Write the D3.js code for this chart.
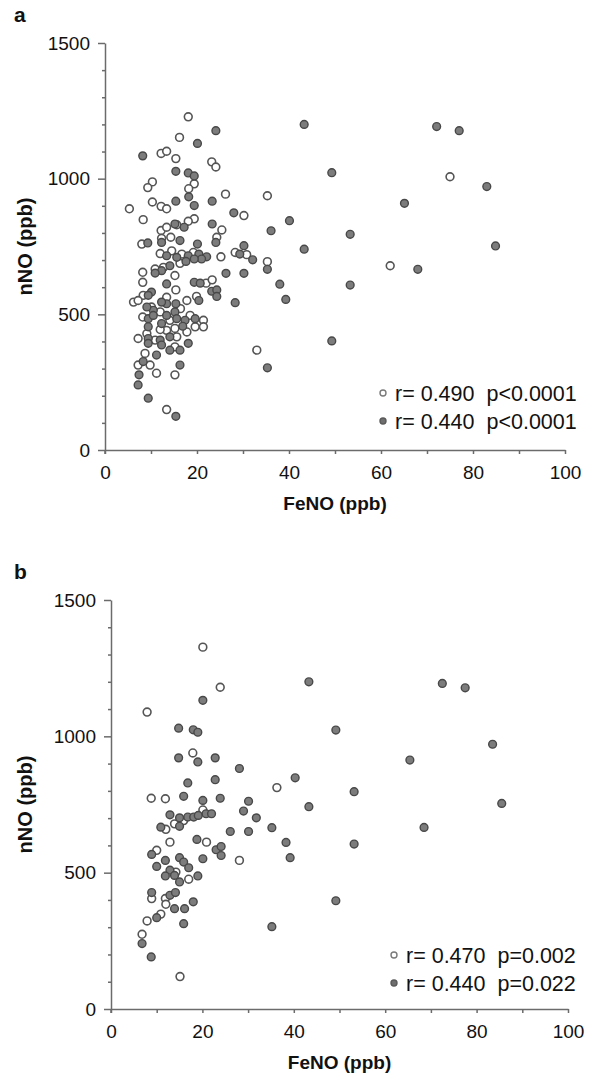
<!DOCTYPE html>
<html>
<head>
<meta charset="utf-8">
<script src="https://cdn.jsdelivr.net/npm/d3@7"></script>
<style>
  html, body { margin: 0; padding: 0; background: #fff; }
  svg { display: block; font-family: "Liberation Sans", Arial, Helvetica, sans-serif; }
</style>
</head>
<body>
<svg id="chart" width="596" height="1088"></svg>
<script>
// ---------------- DATA ----------------
const xTicks = [0, 20, 40, 60, 80, 100];
const yTicks = [0, 500, 1000, 1500];
const xTitle = "FeNO (ppb)";
const yTitle = "nNO (ppb)";
const panelLabels = ["a", "b"];

// Panel a — open circles [FeNO, nNO]
const aOpen = [
  [18.1,1228],[16.2,1152],[12.2,1093],[13.4,1101],[15.4,1074],[23.2,1062],[24.1,1043],[10.3,988],
  [9.3,967],[19.4,981],[18.2,963],[26.2,943],[10.3,914],[12.2,898],[13.4,889],[5.3,889],[8.3,849],
  [30.2,864],[19.4,852],[18.1,843],[25.4,811],[24.3,784],[12.2,809],[13.4,821],[15.6,830],[8.0,759],
  [14.3,784],[12.3,780],
  [12.0,724],[14.5,734],[16.7,722],[19.2,728],[25.2,712],[28.3,728],[30.8,720],[16.3,688],[12.7,673],
  [10.9,667],[8.2,655],[8.2,618],[15.2,643],[22.0,615],[23.3,627],[19.9,566],[17.8,551],[15.4,590],
  [13.4,563],[8.3,570],[6.2,545],[7.2,551],[10.1,527],[8.2,490],[12.0,509],[16.4,521],[14.1,478],
  [18.5,496],[21.4,478],[21.4,454],[19.6,454],[17.8,435],[15.2,448],[13.4,441],[12.0,444],[9.1,429],
  [7.2,411],[10.9,405],[15.6,417],[15.2,380],[8.7,356],[7.2,313],[9.8,313],[11.2,283],[15.2,277],
  [13.4,149],[33.0,368],
  [75.0,1007],[35.3,937],[35.3,694],[62.0,679]
];
// Panel a — filled circles
const aFilled = [
  [24.1,1177],[20.1,1130],[8.2,1084],[15.4,1027],[18.1,1021],[19.4,1010],[18.2,933],[19.4,901],
  [15.4,917],[23.3,917],[28.0,874],[23.3,833],[17.2,821],[15.2,833],[9.3,763],[12.3,765],[16.3,772],
  [20.1,759],[24.1,765],[30.2,753],
  [13.4,716],[15.6,710],[18.1,716],[20.4,722],[22.1,712],[21.0,704],[19.4,704],[29.3,722],[32.1,701],
  [17.6,695],[14.1,679],[12.3,661],[10.9,652],[13.4,612],[26.3,651],[30.2,651],[19.4,618],[20.7,615],
  [23.2,585],[24.3,590],[24.3,566],[28.3,543],[20.4,551],[15.4,539],[13.4,539],[12.3,545],[10.1,582],
  [9.4,570],[10.5,515],[9.1,527],[9.4,484],[10.5,496],[13.4,496],[15.2,509],[15.6,484],[17.4,478],
  [12.3,466],[19.6,484],[16.9,456],[9.4,454],[9.4,411],[9.4,393],[12.0,405],[12.3,387],[14.1,417],
  [18.1,393],[14.1,368],[16.3,368],[11.2,350],[8.3,326],[16.3,313],[7.4,277],[7.2,240],[9.4,191],
  [15.4,124],
  [43.3,1200],[72.1,1192],[77.0,1177],[49.3,1022],[83.0,971],[65.1,909],[40.1,845],[36.1,808],
  [53.3,795],[43.3,740],[84.9,752],[35.3,666],[68.0,666],[38.0,611],[53.3,608],[39.3,555],[49.3,402],
  [35.3,303]
];
// Panel b — open circles
const bOpen = [
  [20.1,1327],[23.9,1180],[7.9,1089],[17.9,939],[8.8,773],[11.9,771],[15.9,691],[20.1,730],
  [12.0,659],[13.9,679],[12.9,612],[20.9,612],[28.1,545],[10.0,582],[14.2,502],[17.0,476],[8.9,405],
  [11.9,405],[12.0,384],[10.9,348],[7.9,323],[6.8,274],[15.1,119],[36.3,812]
];
// Panel b — filled circles
const bFilled = [
  [20.1,1132],[14.8,1030],[18.0,1024],[19.0,1015],[14.8,921],[19.0,906],[22.8,921],[28.1,882],
  [16.8,829],[22.8,841],[15.9,780],[20.1,765],[23.9,773],[30.1,762],[29.0,726],[31.8,701],[12.9,712],
  [15.0,701],[16.8,704],[18.1,704],[19.1,710],[20.8,716],[22.0,716],[10.9,667],[15.0,670],[26.1,651],
  [30.1,651],[18.8,622],[23.0,584],[24.1,596],[24.1,563],[20.1,551],[8.9,567],[11.9,545],[15.0,555],
  [15.9,539],[10.0,523],[17.0,518],[12.9,509],[11.9,488],[13.9,490],[19.0,488],[15.0,466],[8.9,427],
  [12.9,417],[14.1,427],[13.9,368],[16.1,368],[18.0,393],[10.0,335],[15.9,313],[6.8,240],[8.8,191],
  [43.3,1200],[72.5,1194],[77.5,1178],[49.2,1023],[83.5,971],[65.4,913],[40.3,848],[53.2,797],
  [43.3,742],[85.5,754],[35.2,665],[68.5,666],[38.3,611],[53.2,605],[39.2,555],[49.2,397],[35.2,302]
];
// Legend texts
const aLegend = ["r= 0.490  p<0.0001", "r= 0.440  p<0.0001"];
const bLegend = ["r= 0.470  p=0.002", "r= 0.440  p=0.022"];

// ---------------- DRAWING ----------------
const svg = d3.select("#chart");
const FONT = 19;
const AXIS_COLOR = "#6b6b6b";

const panels = [
  { label: panelLabels[0], open: aOpen, filled: aFilled, legend: aLegend,
    x0: 105, x1: 565, yTop: 43, yBot: 450, legX: 383, legY: 393 },
  { label: panelLabels[1], open: bOpen, filled: bFilled, legend: bLegend,
    x0: 111, x1: 568, yTop: 600, yBot: 1009, legX: 394, legY: 955 }
];

panels.forEach(p => {
  const x = d3.scaleLinear().domain([0, 100]).range([p.x0, p.x1]);
  const y = d3.scaleLinear().domain([0, 1500]).range([p.yBot, p.yTop]);
  const g = svg.append("g");

  // Y axis: minor ticks
  const minorY = d3.range(0, 1501, 100).filter(v => v % 500 !== 0);
  g.append("g").attr("transform", `translate(${p.x0},0)`)
    .call(d3.axisLeft(y).tickValues(minorY).tickSize(3).tickFormat(""))
    .call(s => s.select(".domain").remove());
  // Y axis: major ticks + labels
  g.append("g").attr("transform", `translate(${p.x0},0)`)
    .call(d3.axisLeft(y).tickValues(yTicks).tickSize(7).tickPadding(8).tickSizeOuter(0)
      .tickFormat(d3.format("d")));
  // X axis
  g.append("g").attr("transform", `translate(0,${p.yBot})`)
    .call(d3.axisBottom(x).tickValues(d3.range(0, 101, 10)).tickSize(4).tickPadding(12).tickSizeOuter(0)
      .tickFormat(d => xTicks.includes(d) ? d : ""));

  g.selectAll(".tick line, .domain").attr("stroke", AXIS_COLOR).attr("stroke-width", 1.5);
  g.selectAll(".tick text").attr("fill", "#111").style("font-size", FONT + "px");

  // extend y axis slightly below x axis, as in the original
  g.append("line").attr("x1", p.x0).attr("x2", p.x0).attr("y1", p.yBot).attr("y2", p.yBot + 4)
    .attr("stroke", AXIS_COLOR).attr("stroke-width", 1.5);

  // Titles
  g.append("text").attr("x", (p.x0 + p.x1) / 2).attr("y", p.yBot + 60)
    .attr("text-anchor", "middle").attr("font-weight", "bold").style("font-size", "19px")
    .attr("fill", "#111").text(xTitle);
  g.append("text").attr("transform", `translate(32,${(p.yTop + p.yBot) / 2}) rotate(-90)`)
    .attr("text-anchor", "middle").attr("font-weight", "bold").style("font-size", "20px")
    .attr("fill", "#111").text(yTitle);
  g.append("text").attr("x", 14).attr("y", p.yTop - 21).attr("font-weight", "bold")
    .style("font-size", "21px").attr("fill", "#111").text(p.label);

  // Points
  g.append("g").selectAll("circle").data(p.open).join("circle")
    .attr("cx", d => x(d[0])).attr("cy", d => y(d[1])).attr("r", 3.9)
    .attr("fill", "#fff").attr("stroke", "#555").attr("stroke-width", 1.6);
  g.append("g").selectAll("circle").data(p.filled).join("circle")
    .attr("cx", d => x(d[0])).attr("cy", d => y(d[1])).attr("r", 3.9)
    .attr("fill", "#7c7c7c").attr("stroke", "#484848").attr("stroke-width", 1.4);

  // Legend
  const lg = g.append("g");
  p.legend.forEach((t, i) => {
    const cy = p.legY + i * 28;
    lg.append("circle").attr("cx", p.legX).attr("cy", cy).attr("r", 3)
      .attr("fill", i === 0 ? "#fff" : "#6e6e6e").attr("stroke", i === 0 ? "#7a7a7a" : "#5a5a5a")
      .attr("stroke-width", 1.4);
    lg.append("text").attr("x", p.legX + 12).attr("y", cy).attr("dy", "0.35em")
      .style("font-size", "21.5px").attr("fill", "#111").attr("xml:space", "preserve")
      .style("white-space", "pre").text(t);
  });
});
</script>
</body>
</html>
